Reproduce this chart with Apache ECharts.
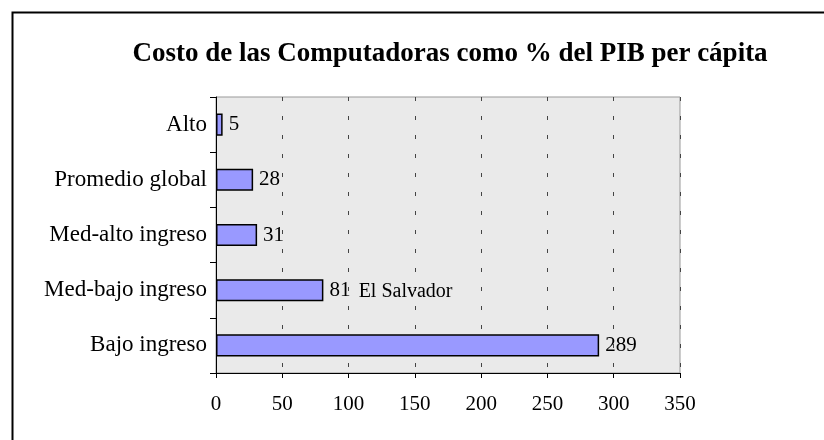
<!DOCTYPE html>
<html>
<head>
<meta charset="utf-8">
<script src="https://cdn.jsdelivr.net/npm/echarts@6/dist/echarts.min.js"></script>
<style>html,body{margin:0;padding:0;background:#fff;}#c{width:824px;height:440px;}</style>
</head>
<body>
<div id="c"></div>
<script>
var titleText = 'Costo de las Computadoras como % del PIB per cápita';
var categories = ['Alto', 'Promedio global', 'Med-alto ingreso', 'Med-bajo ingreso', 'Bajo ingreso'];
var values = [5, 28, 31, 81, 289];
var notes = ['', '', '', 'El Salvador', ''];
var xTicks = [0, 50, 100, 150, 200, 250, 300, 350];

var serif = '"Liberation Serif", "Times New Roman", serif';
var chart = echarts.init(document.getElementById('c'));
chart.setOption({
  backgroundColor: '#fff',
  animation: false,
  title: {
    text: titleText,
    left: 445, top: 36, textAlign: 'center',
    textStyle: { fontFamily: serif, fontWeight: 'bold', fontSize: 27, color: '#000' }
  },
  graphic: [{
    type: 'rect', left: 10, top: 10, z: 100,
    shape: { x: 0, y: 0, width: 900, height: 600 },
    style: { fill: 'none', stroke: '#000', lineWidth: 2 }
  }],
  grid: {
    left: 216, top: 97, width: 464, height: 276,
    show: true, backgroundColor: '#EAEAEA', borderColor: '#999', borderWidth: 1,
    containLabel: false, outerBoundsMode: 'none'
  },
  xAxis: {
    type: 'value', min: xTicks[0], max: xTicks[xTicks.length - 1], interval: 50,
    axisLine: { show: true, lineStyle: { color: '#000', width: 1 } },
    axisTick: { show: true, length: 5, lineStyle: { color: '#000' } },
    axisLabel: { margin: 21, fontFamily: serif, fontSize: 21, color: '#000' },
    splitLine: { show: true, lineStyle: { color: '#444', type: [4, 15], width: 1 } }
  },
  yAxis: {
    type: 'category', data: categories, inverse: true,
    axisLine: { show: true, lineStyle: { color: '#000', width: 1 } },
    axisTick: { show: true, length: 6, alignWithLabel: false, lineStyle: { color: '#000' } },
    axisLabel: { margin: 9, fontFamily: serif, fontSize: 23, color: '#000' },
    splitLine: { show: false }
  },
  series: [{
    type: 'bar',
    data: values,
    barWidth: '40%',
    itemStyle: { color: '#9999FF', borderColor: '#000', borderWidth: 1.5 },
    label: {
      show: true, position: 'right', distance: 6,
      fontFamily: serif, fontSize: 21, color: '#000',
      formatter: function (p) {
        var n = notes[p.dataIndex];
        return n ? p.value + ' {n|' + n + '}' : String(p.value);
      },
      rich: { n: { fontFamily: serif, fontSize: 20, color: '#000', padding: [4, 0, 0, 3] } }
    }
  }]
});
</script>
</body>
</html>
